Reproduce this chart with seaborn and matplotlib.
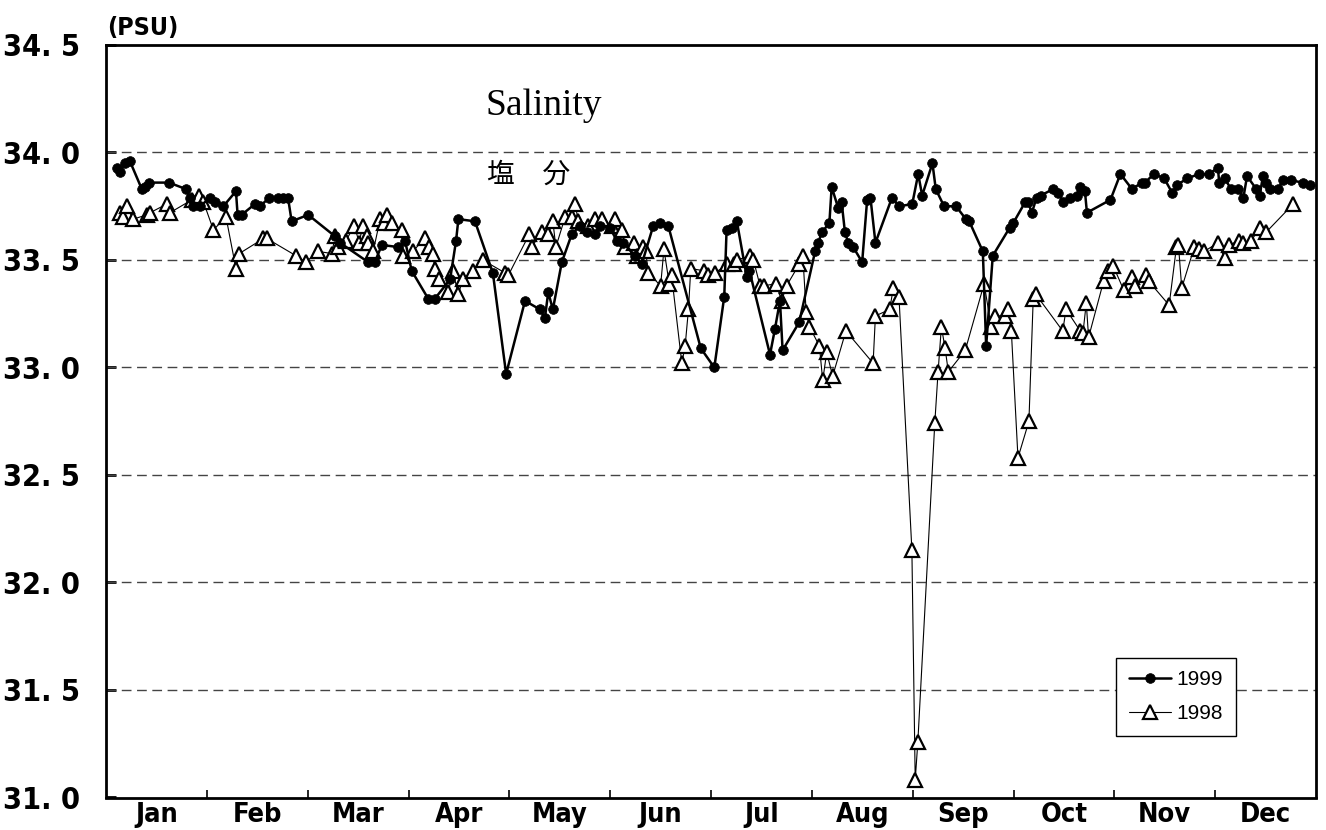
import pandas as pd
import matplotlib
matplotlib.use("Agg")
import matplotlib.pyplot as plt
import seaborn as sns

# --- data: day of year and salinity (PSU) ---
day_1999 = [3.2, 4.2, 5.7, 7.2, 10.8, 11.8, 13.1, 19.0, 24.1, 25.3, 26.3, 28.4, 31.4, 32.9, 35.4,
            39.2, 39.7, 40.9, 44.9, 46.5, 49.2, 51.9, 53.4, 54.9, 56.0, 61.0, 69.1, 70.6, 79.1, 81.1,
            83.2, 88.2, 90.2, 92.2, 97.2, 99.2, 103.8, 105.6, 106.3, 111.3, 116.7, 120.7, 126.4, 130.9,
            132.4, 133.4, 134.8, 137.5, 140.5, 143.0, 145.2, 147.5, 149.0, 152.0, 154.1, 156.1, 159.6,
            161.6, 165.1, 167.1, 169.6, 179.4, 183.5, 186.5, 187.2, 188.9, 190.3, 193.3, 194.1, 200.3,
            201.8, 203.3, 204.1, 209.1, 213.9, 214.9, 215.9, 218.2, 218.9, 220.9, 221.9, 222.9, 223.9,
            225.4, 228.1, 229.6, 230.6, 232.1, 237.1, 239.2, 243.2, 245.0, 246.2, 249.3, 250.3, 252.8,
            256.4, 259.4, 260.4, 264.5, 265.5, 267.5, 272.6, 273.6, 277.3, 278.1, 279.3, 280.7, 282.0,
            285.7, 287.3, 288.8, 290.8, 292.8, 293.8, 295.3, 295.9, 303.0, 306.0, 309.5, 312.5, 313.4,
            316.1, 319.2, 321.7, 323.2, 326.2, 329.8, 332.8, 335.4, 335.8, 337.4, 339.4, 341.4, 343.1,
            344.2, 347.0, 348.0, 349.0, 350.0, 351.0, 353.5, 355.1, 357.6, 361.1, 363.2]
sal_1999 = [33.93, 33.91, 33.95, 33.96, 33.83, 33.84, 33.86, 33.86, 33.83, 33.79, 33.75, 33.75, 33.79,
            33.77, 33.75, 33.82, 33.71, 33.71, 33.76, 33.75, 33.79, 33.79, 33.79, 33.79, 33.68, 33.71,
            33.61, 33.58, 33.49, 33.49, 33.57, 33.56, 33.59, 33.45, 33.32, 33.32, 33.41, 33.59, 33.69,
            33.68, 33.44, 32.97, 33.31, 33.27, 33.23, 33.35, 33.27, 33.49, 33.62, 33.66, 33.63, 33.62,
            33.66, 33.65, 33.59, 33.58, 33.52, 33.48, 33.66, 33.67, 33.66, 33.09, 33.00, 33.33, 33.64,
            33.65, 33.68, 33.42, 33.45, 33.06, 33.18, 33.31, 33.08, 33.21, 33.54, 33.58, 33.63, 33.67,
            33.84, 33.74, 33.77, 33.63, 33.58, 33.56, 33.49, 33.78, 33.79, 33.58, 33.79, 33.75, 33.76,
            33.90, 33.80, 33.95, 33.83, 33.75, 33.75, 33.69, 33.68, 33.54, 33.10, 33.52, 33.65, 33.67,
            33.77, 33.77, 33.72, 33.79, 33.80, 33.83, 33.81, 33.77, 33.79, 33.80, 33.84, 33.82, 33.72,
            33.78, 33.90, 33.83, 33.86, 33.86, 33.90, 33.88, 33.81, 33.85, 33.88, 33.90, 33.90, 33.93,
            33.86, 33.88, 33.83, 33.83, 33.79, 33.89, 33.83, 33.80, 33.89, 33.86, 33.83, 33.83, 33.87,
            33.87, 33.86, 33.85]

day_1998 = [4.2, 5.2, 6.2, 8.2, 12.3, 13.3, 18.3, 19.3, 25.9, 28.1, 29.4, 32.4, 36.2, 39.2, 40.2, 47.5,
            48.5, 57.3, 60.3, 64.0, 68.1, 69.1, 70.1, 72.4, 74.9, 76.4, 77.4, 78.6, 79.1, 80.6, 82.7,
            83.9, 84.9, 86.2, 89.2, 89.7, 92.5, 96.2, 97.5, 98.6, 99.2, 100.5, 103.3, 104.6, 106.3,
            107.6, 110.6, 113.6, 120.4, 121.4, 127.7, 128.4, 131.4, 133.4, 134.8, 135.7, 138.5, 140.5,
            141.5, 142.5, 145.5, 147.5, 149.5, 152.5, 153.5, 155.6, 156.6, 159.3, 160.3, 162.1, 162.8,
            163.6, 167.3, 168.3, 169.9, 170.6, 173.7, 174.7, 175.7, 176.4, 180.4, 181.7, 183.7, 187.4,
            189.4, 190.4, 194.3, 195.3, 197.3, 198.5, 202.1, 203.8, 205.3, 209.1, 210.2, 211.2, 212.2,
            215.2, 216.2, 217.4, 219.2, 223.2, 231.4, 232.1, 236.4, 237.5, 239.2, 243.1, 244.1, 244.9,
            250.0, 251.0, 252.0, 253.1, 254.1, 259.2, 264.9, 267.0, 268.3, 271.3, 272.0, 273.1, 275.1,
            278.4, 279.7, 280.5, 288.6, 289.6, 293.9, 294.7, 295.7, 296.4, 300.9, 302.2, 303.9, 307.0,
            309.5, 310.5, 313.8, 314.6, 320.7, 322.9, 323.5, 324.5, 328.3, 329.6, 331.3, 335.4, 337.4,
            338.7, 341.9, 343.1, 345.5, 348.0, 350.0, 358.1]
sal_1998 = [33.72, 33.70, 33.75, 33.69, 33.71, 33.72, 33.76, 33.72, 33.78, 33.80, 33.77, 33.64, 33.70,
            33.46, 33.53, 33.60, 33.60, 33.52, 33.49, 33.54, 33.53, 33.61, 33.56, 33.59, 33.66, 33.58,
            33.66, 33.61, 33.58, 33.54, 33.69, 33.67, 33.71, 33.67, 33.64, 33.52, 33.54, 33.60, 33.56,
            33.53, 33.46, 33.41, 33.35, 33.45, 33.34, 33.41, 33.45, 33.50, 33.44, 33.43, 33.62, 33.56,
            33.63, 33.62, 33.68, 33.56, 33.70, 33.70, 33.76, 33.68, 33.66, 33.69, 33.69, 33.66, 33.69,
            33.64, 33.56, 33.58, 33.52, 33.56, 33.54, 33.44, 33.38, 33.55, 33.39, 33.43, 33.02, 33.10,
            33.27, 33.46, 33.45, 33.43, 33.44, 33.48, 33.48, 33.50, 33.52, 33.50, 33.38, 33.38, 33.39,
            33.31, 33.38, 33.48, 33.52, 33.26, 33.19, 33.10, 32.94, 33.07, 32.96, 33.17, 33.02, 33.24,
            33.27, 33.37, 33.33, 32.15, 31.08, 31.26, 32.74, 32.98, 33.19, 33.09, 32.98, 33.08, 33.39,
            33.19, 33.24, 33.24, 33.27, 33.17, 32.58, 32.75, 33.32, 33.34, 33.17, 33.27, 33.17, 33.16,
            33.30, 33.14, 33.40, 33.45, 33.47, 33.36, 33.42, 33.38, 33.43, 33.40, 33.29, 33.56, 33.57,
            33.37, 33.56, 33.55, 33.54, 33.58, 33.51, 33.57, 33.59, 33.58, 33.59, 33.65, 33.63, 33.76]

months = ["Jan", "Feb", "Mar", "Apr", "May", "Jun", "Jul", "Aug", "Sep", "Oct", "Nov", "Dec"]
y_ticks = [31.0, 31.5, 32.0, 32.5, 33.0, 33.5, 34.0, 34.5]
y_labels = ["31. 0", "31. 5", "32. 0", "32. 5", "33. 0", "33. 5", "34. 0", "34. 5"]

sns.set_style("ticks")
plt.rcParams["font.family"] = ["DejaVu Sans"]
plt.rcParams["font.stretch"] = "condensed"
for key in ["text.color", "axes.labelcolor", "xtick.color", "ytick.color"]:
    plt.rcParams[key] = "black"

df99 = pd.DataFrame({"day": day_1999, "salinity": sal_1999})
df98 = pd.DataFrame({"day": day_1998, "salinity": sal_1998})

W, H = 1326, 830
fig = plt.figure(figsize=(W / 100, H / 100), dpi=100)
ax = fig.add_axes([106 / W, 1 - 797.5 / H, 1210 / W, 752.5 / H])

sns.lineplot(data=df98, x="day", y="salinity", estimator=None, sort=False, ax=ax,
             color="black", linewidth=0.8, marker="^", markersize=9.5,
             markerfacecolor="white", markeredgecolor="black", markeredgewidth=1.6,
             label="1998", zorder=3)
sns.lineplot(data=df99, x="day", y="salinity", estimator=None, sort=False, ax=ax,
             color="black", linewidth=1.8, marker="o", markersize=7,
             markerfacecolor="black", markeredgecolor="black", markeredgewidth=0.5,
             label="1999", zorder=4)

ax.set_xlim(0, 365)
ax.set_ylim(31.0, 34.5)
month_len = 365 / 12
ax.set_xticks([month_len * k for k in range(1, 12)])
ax.set_xticklabels([])
ax.set_xticks([month_len * (k + 0.5) for k in range(12)], minor=True)
ax.set_xticklabels(months, minor=True, fontsize=19.5, fontweight="bold")
ax.tick_params(axis="x", which="major", direction="in", length=6, width=1.2)
ax.tick_params(axis="x", which="minor", length=0, pad=3)

ax.set_yticks(y_ticks)
ax.set_yticklabels(y_labels, fontsize=22, fontweight="bold")
ax.tick_params(axis="y", direction="in", length=7, width=2, pad=19)

ax.set_xlabel("")
ax.set_ylabel("")
ax.grid(False)
for v in y_ticks[1:-1]:
    ax.axhline(v, color="#444444", linewidth=1.0, linestyle=(0, (7, 4)), zorder=1)

for side in ["left", "bottom", "top", "right"]:
    ax.spines[side].set_visible(True)
    ax.spines[side].set_color("black")
    ax.spines[side].set_linewidth(2.0)

fig.text(107 / W, 1 - 28 / H, "(PSU)", fontsize=18, fontweight="bold", va="center", ha="left")
fig.text(486 / W, 1 - 115 / H, "Salinity", fontsize=27, family="Liberation Serif",
         stretch="normal", va="baseline", ha="left")
fig.text(487 / W, 1 - 175 / H, "塩\u3000分", fontsize=20, stretch="normal",
         family=["Noto Sans CJK JP", "DejaVu Sans"], va="center", ha="left")

handles, labels = ax.get_legend_handles_labels()
order = [labels.index("1999"), labels.index("1998")]
leg = ax.legend([handles[i] for i in order], [labels[i] for i in order],
                loc="upper left", bbox_to_anchor=(0.835, 0.1854), borderaxespad=0,
                frameon=True, fancybox=False, edgecolor="black", framealpha=1,
                prop={"family": ["Liberation Sans", "DejaVu Sans"], "size": 15, "stretch": "normal"},
                handlelength=2.0, handletextpad=0.3, borderpad=0.6, labelspacing=0.7)
leg.get_frame().set_linewidth(1.0)

fig.savefig("out.png", dpi=100, facecolor="white")
